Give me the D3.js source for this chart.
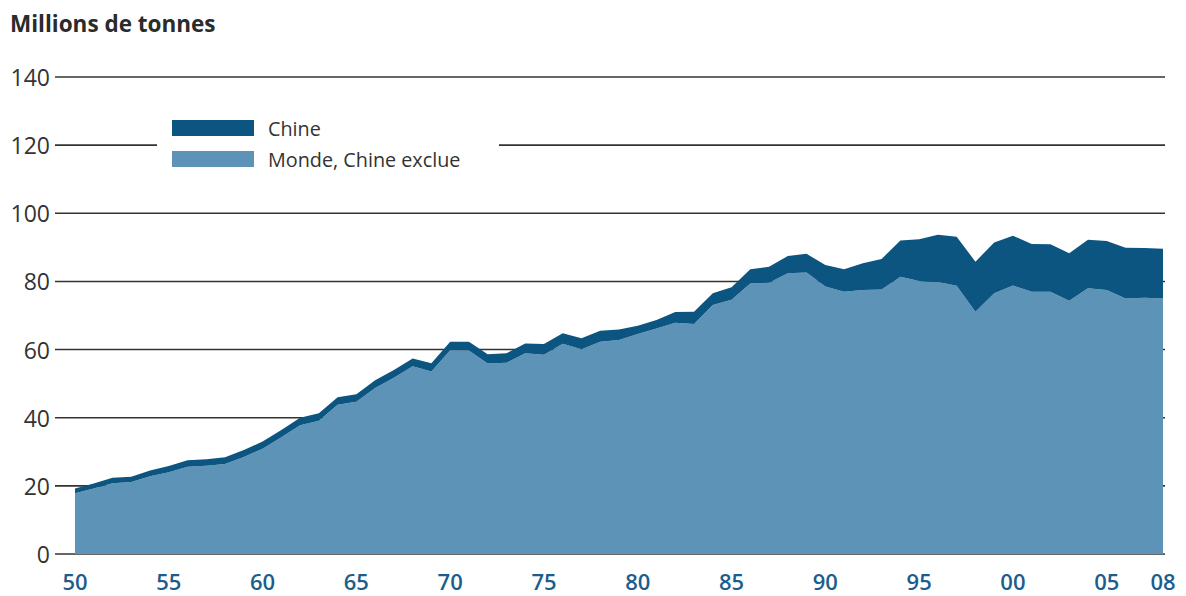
<!DOCTYPE html>
<html>
<head>
<meta charset="utf-8">
<script src="https://cdn.jsdelivr.net/npm/d3@7"></script>
<style>
  body { margin: 0; background: #fff; }
  svg { display: block; font-family: "Open Sans", "Noto Sans", sans-serif; }
</style>
</head>
<body>
<svg id="chart" width="1186" height="596"></svg>
<script>
// data: capture by year, millions of tonnes
const years = d3.range(1950, 2009);
const mondeHorsChine = [
  17.8, 19.2, 20.8, 21.1, 22.8, 24.0, 25.6, 25.9, 26.4, 28.5,
  30.9, 34.3, 37.8, 39.1, 43.8, 44.7, 48.7, 51.7, 55.1, 53.6,
  59.8, 59.7, 55.9, 56.1, 58.9, 58.5, 61.7, 60.1, 62.3, 62.8,
  64.6, 66.2, 67.9, 67.5, 73.1, 74.6, 79.4, 79.6, 82.4, 82.6,
  78.5, 77.0, 77.5, 77.6, 81.4, 80.1, 79.8, 78.7, 71.1, 76.5,
  78.8, 77.0, 77.0, 74.3, 78.0, 77.5, 75.0, 75.2, 75.0
];
const chine = [
  1.4, 1.5, 1.6, 1.6, 1.7, 1.8, 1.9, 1.9, 2.0, 2.0,
  2.1, 2.1, 2.2, 2.2, 2.2, 2.2, 2.3, 2.3, 2.3, 2.4,
  2.5, 2.6, 2.7, 2.8, 2.9, 3.1, 3.1, 3.2, 3.2, 3.1,
  2.4, 2.5, 3.1, 3.6, 3.4, 3.7, 4.2, 4.7, 5.1, 5.5,
  6.3, 6.6, 7.8, 9.0, 10.6, 12.3, 13.9, 14.4, 14.7, 14.9,
  14.6, 14.0, 13.9, 14.0, 14.2, 14.4, 14.9, 14.6, 14.6
];
const yTicks = [0, 20, 40, 60, 80, 100, 120, 140];
const xTicks = [1950, 1955, 1960, 1965, 1970, 1975, 1980, 1985, 1990, 1995, 2000, 2005, 2008];
const seriesNames = ["Monde, Chine exclue", "Chine"];
const colors = { "Monde, Chine exclue": "#5e93b8", "Chine": "#0b5580" };

const table = years.map((y, i) => ({
  year: y,
  "Monde, Chine exclue": mondeHorsChine[i],
  "Chine": chine[i]
}));

const svg = d3.select("#chart");
const x = d3.scaleLinear().domain([1950, 2008]).range([75, 1163]);
const y = d3.scaleLinear().domain([0, 140]).range([554, 77]);

// title
svg.append("text")
  .attr("x", 10).attr("y", 32)
  .attr("font-size", 22.5).attr("font-weight", 700)
  .attr("fill", "#2b2b2b")
  .text("Millions de tonnes");

// grid
svg.append("g").selectAll("line")
  .data(yTicks)
  .join("line")
  .attr("x1", 55).attr("x2", 1165)
  .attr("y1", d => y(d)).attr("y2", d => y(d))
  .attr("stroke", "#333").attr("stroke-width", 1.6);

svg.append("g").selectAll("text")
  .data(yTicks)
  .join("text")
  .attr("x", 50).attr("y", d => y(d))
  .attr("text-anchor", "end")
  .attr("dominant-baseline", "central")
  .attr("font-size", 23)
  .attr("fill", "#333")
  .text(d => d);

// stacked areas
const stack = d3.stack().keys(seriesNames);
const layers = stack(table);
const area = d3.area()
  .x(d => x(d.data.year))
  .y0(d => y(d[0]))
  .y1(d => y(d[1]));

svg.append("g").selectAll("path")
  .data(layers)
  .join("path")
  .attr("fill", d => colors[d.key])
  .attr("d", area);

// x labels
svg.append("g").selectAll("text")
  .data(xTicks)
  .join("text")
  .attr("x", d => x(d)).attr("y", 581)
  .attr("text-anchor", "middle")
  .attr("dominant-baseline", "central")
  .attr("font-size", 22).attr("font-weight", 600)
  .attr("fill", "#1b5e8e")
  .text(d => String(d % 100).padStart(2, "0"));

// legend
const legend = svg.append("g");
legend.append("rect")
  .attr("x", 157).attr("y", 108).attr("width", 342).attr("height", 66)
  .attr("fill", "#fff");
const legItems = ["Chine", "Monde, Chine exclue"];
legend.selectAll("rect.sw")
  .data(legItems)
  .join("rect")
  .attr("class", "sw")
  .attr("x", 172).attr("y", (d, i) => 120 + i * 31)
  .attr("width", 82).attr("height", 16)
  .attr("fill", d => colors[d]);
legend.selectAll("text")
  .data(legItems)
  .join("text")
  .attr("x", 268).attr("y", (d, i) => 128 + i * 31)
  .attr("dominant-baseline", "central")
  .attr("font-size", 19.8)
  .attr("fill", "#333")
  .text(d => d);
</script>
</body>
</html>
